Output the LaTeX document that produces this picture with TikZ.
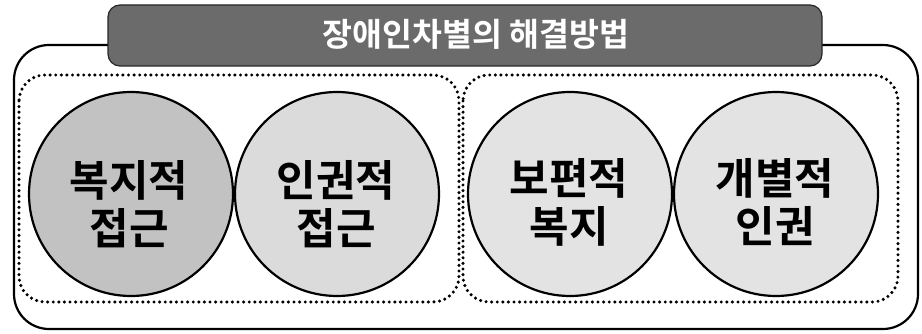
\documentclass[tikz,border=0pt]{standalone}
\usepackage{fontspec}
\newfontfamily\kr{Noto Sans CJK KR}[BoldFont={Noto Sans CJK KR Bold}]
\begin{document}
\begin{tikzpicture}[x=1pt,y=-1pt,
  frame/.style={draw=black,line width=2.2pt,rounded corners=35pt},
  dotbox/.style={draw=black,line width=3.4pt,line cap=round,dash pattern=on 0pt off 5.6pt,rounded corners=26pt},
  banner/.style={draw=black!85,line width=1.2pt,fill=black!58,rounded corners=12pt},
  ball/.style={circle,draw=black,line width=2.2pt,minimum size=204pt,inner sep=0pt},
  balltext/.style={font=\kr\bfseries\fontsize{43}{48}\selectfont,align=center,text=black},
  titletext/.style={font=\kr\bfseries\fontsize{32.5}{36}\selectfont,text=white}]
\useasboundingbox (0,0) rectangle (922,334);
% outer frame
\draw[frame] (14,45) rectangle (918,329);
% banner
\draw[banner] (108,5) rectangle (822,66);
\node[titletext] (title) at (476,34) {장애인차별의 해결방법};
% dotted groups
\draw[dotbox] (19,75) rectangle (459,302);
\draw[dotbox] (463,75) rectangle (898,302);
% circles
\node[ball,fill=black!24] (c1) at (131,194) {};
\node[ball,fill=black!14] (c2) at (337,194) {};
\node[ball,fill=black!11] (c3) at (570,194) {};
\node[ball,fill=black!11] (c4) at (776,194) {};
\node[balltext] (t1) at (129,204) {복지적\\접근};
\node[balltext] (t2) at (336,204) {인권적\\접근};
\node[balltext] (t3) at (569,202) {보편적\\복지};
\node[balltext] (t4) at (775,202) {개별적\\인권};
\end{tikzpicture}
\end{document}
